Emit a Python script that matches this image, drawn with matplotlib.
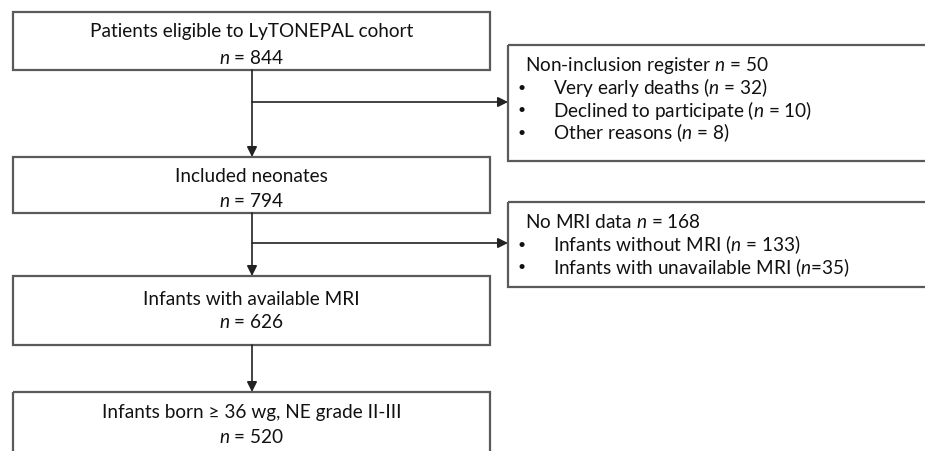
"""Flow chart of the LyTONEPAL cohort selection."""

import matplotlib

matplotlib.use("Agg")
import matplotlib.pyplot as plt
from matplotlib.patches import Rectangle

plt.rcParams["font.family"] = ["Lato", "DejaVu Sans"]
plt.rcParams["mathtext.fontset"] = "custom"
plt.rcParams["mathtext.rm"] = "Lato"
plt.rcParams["mathtext.it"] = "Lato:italic"

# data
stage_labels = [
    "Patients eligible to LyTONEPAL cohort",
    "Included neonates",
    "Infants with available MRI",
    "Infants born \u2265 36 wg, NE grade II-III",
]
stage_counts = [844, 794, 626, 520]

excluded_titles = ["Non-inclusion register", "No MRI data"]
excluded_totals = [50, 168]
excluded_reasons = [
    ["Very early deaths", "Declined to participate", "Other reasons"],
    ["Infants without MRI", "Infants with unavailable MRI"],
]
excluded_counts = [[32, 10, 8], [133, 35]]

# layout (pixels)
stage_boxes = [(13, 13, 71), (13, 158, 214), (13, 277, 346), (13, 393, 470)]
stage_right = 490
stage_text_y = [(32, 58), (177, 201), (300, 322), (413, 437)]
side_boxes = [(508, 46, 162), (508, 203, 288)]
side_title_y = [65, 222]
side_line_gap = 22.7
branch_y = [103, 244]
trunk_x = 252

EDGE = "#5a5a5a"
TEXT = "#111111"
FS = 13.7


def n_text(count, spaced=True):
    return rf"$\it{{n}}$ = {count}" if spaced else rf"$\it{{n}}$={count}"


def main() -> None:
    fig = plt.figure(figsize=(9.25, 4.52), dpi=100)
    ax = fig.add_axes([0, 0, 1, 1])
    ax.set_xlim(0, 925)
    ax.set_ylim(452, 0)
    ax.axis("off")

    for (x0, top, bottom), label, count, (y1, y2) in zip(
        stage_boxes, stage_labels, stage_counts, stage_text_y
    ):
        ax.add_patch(
            Rectangle((x0, top), stage_right - x0, bottom - top, fill=False,
                      edgecolor=EDGE, linewidth=1.6)
        )
        cx = (x0 + stage_right) / 2
        ax.text(cx, y1, label, ha="center", va="center", fontsize=FS, color=TEXT)
        ax.text(cx, y2, n_text(count), ha="center", va="center", fontsize=FS, color=TEXT)

    # vertical arrows between stages
    for upper, lower in zip(stage_boxes[:-1], stage_boxes[1:]):
        ax.annotate("", xy=(trunk_x, lower[1]), xytext=(trunk_x, upper[2]),
                    arrowprops=dict(arrowstyle="-|>,head_length=0.6,head_width=0.3",
                                    color="#222222", lw=1.2, shrinkA=0, shrinkB=0))

    for i, (x0, top, bottom) in enumerate(side_boxes):
        ax.add_patch(
            Rectangle((x0, top), 925 - x0 + 10, bottom - top, fill=False,
                      edgecolor=EDGE, linewidth=1.6, clip_on=True)
        )
        ax.annotate("", xy=(x0, branch_y[i]), xytext=(trunk_x, branch_y[i]),
                    arrowprops=dict(arrowstyle="-|>,head_length=0.6,head_width=0.3",
                                    color="#222222", lw=1.2, shrinkA=0, shrinkB=0))
        ax.text(x0 + 17, side_title_y[i],
                f"{excluded_titles[i]} " + n_text(excluded_totals[i]),
                ha="left", va="center", fontsize=FS, color=TEXT)
        for j, (reason, count) in enumerate(zip(excluded_reasons[i], excluded_counts[i])):
            y = side_title_y[i] + side_line_gap * (j + 1)
            ax.text(x0 + 14, y, "\u2022", ha="center", va="center", fontsize=10, color=TEXT)
            spaced = not (i == 1 and j == 1)
            ax.text(x0 + 45, y, f"{reason} (" + n_text(count, spaced) + ")",
                    ha="left", va="center", fontsize=FS, color=TEXT)

    fig.savefig("out.png", dpi=100)
    plt.close(fig)


if __name__ == "__main__":
    main()
